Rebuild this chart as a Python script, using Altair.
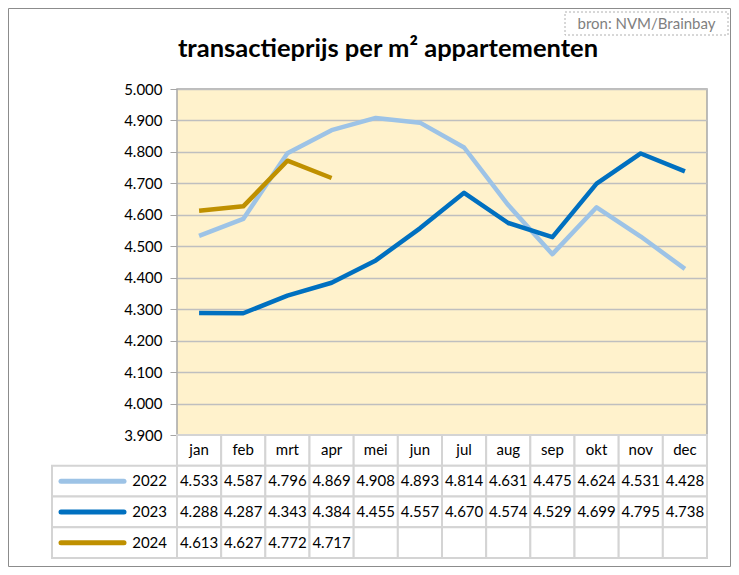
import altair as alt
import pandas as pd

months = ['jan', 'feb', 'mrt', 'apr', 'mei', 'jun', 'jul', 'aug', 'sep', 'okt', 'nov', 'dec']
years = ['2022', '2023', '2024']
v2022 = [4533, 4587, 4796, 4869, 4908, 4893, 4814, 4631, 4475, 4624, 4531, 4428]
v2023 = [4288, 4287, 4343, 4384, 4455, 4557, 4670, 4574, 4529, 4699, 4795, 4738]
v2024 = [4613, 4627, 4772, 4717]
y_ticks = [3900, 4000, 4100, 4200, 4300, 4400, 4500, 4600, 4700, 4800, 4900, 5000]
colors = ['#9dc3e6', '#0070c0', '#bf9000']
title_text = 'transactieprijs per m² appartementen'
source_text = 'bron: NVM/Brainbay'

FONT = 'Lato'
series = {'2022': v2022, '2023': v2023, '2024': v2024}


def fmt(v):
    return f"{v / 1000:.3f}"


line_rows = []
for yr in years:
    for i, v in enumerate(series[yr]):
        line_rows.append({'idx': i, 'month': months[i], 'year': yr, 'value': v})
line_df = pd.DataFrame(line_rows)

cell_rows = []
for row in ['hdr'] + years:
    for i, m in enumerate(months):
        if row == 'hdr':
            txt = m
        else:
            vals = series[row]
            txt = fmt(vals[i]) if i < len(vals) else ''
        cell_rows.append({'idx': i, 'x0': i - 0.5, 'x1': i + 0.5, 'row': row, 'txt': txt})
cell_df = pd.DataFrame(cell_rows)
year_df = pd.DataFrame({'row': years})

x_scale = alt.Scale(domain=[-0.5, 11.5], nice=False, zero=False)
row_scale = alt.Scale(type='band', domain=['hdr'] + years, range=[346, 469],
                      paddingInner=0, paddingOuter=0)
color_scale = alt.Scale(domain=years, range=colors)


def row_y():
    return alt.Y('row:N', scale=row_scale, axis=None, bandPosition=0.5)


one = pd.DataFrame({'t': [title_text]})
src = pd.DataFrame({'t': [source_text]})

outer = alt.Chart(one).mark_rect(fill='white', fillOpacity=0, stroke='#8c8c8c', strokeWidth=1).encode(
    x=alt.value(-168.5), x2=alt.value(553.5), y=alt.value(-80.5), y2=alt.value(477.5))

lines = alt.Chart(line_df).mark_line(strokeWidth=4.5, strokeJoin='round').encode(
    x=alt.X('idx:Q', scale=x_scale, axis=None),
    y=alt.Y('value:Q', scale=alt.Scale(domain=[3900, 5000], nice=False, zero=False),
            axis=alt.Axis(values=y_ticks, title=None, domain=False, tickColor='#a6a6a6',
                          tickSize=7, labelPadding=8, labelFont=FONT, labelFontSize=15,
                          labelColor='#000000', grid=True, gridColor='#bfbfbf', gridWidth=1.3,
                          labelExpr="replace(format(datum.value, ','), ',', '.')")),
    color=alt.Color('year:N', scale=color_scale, legend=None),
    detail='year:N')

cells = alt.Chart(cell_df).mark_rect(fill='white', stroke='#d4d4d4', strokeWidth=2).encode(
    x=alt.X('x0:Q', scale=x_scale, axis=None), x2='x1:Q',
    y=alt.Y('row:N', scale=row_scale, axis=None))

left_cells = alt.Chart(year_df).mark_rect(fill='white', stroke='#d4d4d4', strokeWidth=2).encode(
    x=alt.value(-125), x2=alt.value(0),
    y=alt.Y('row:N', scale=row_scale, axis=None))

legend_lines = alt.Chart(year_df).mark_rule(strokeWidth=5, strokeCap='round').encode(
    x=alt.value(-116), x2=alt.value(-53), y=row_y(),
    color=alt.Color('row:N', scale=color_scale, legend=None))

year_labels = alt.Chart(year_df).mark_text(align='right', baseline='middle', font=FONT,
                                           fontSize=15, color='#000000').encode(
    x=alt.value(-10), y=row_y(), text='row:N')

cell_text = alt.Chart(cell_df).mark_text(align='center', baseline='middle', font=FONT,
                                         fontSize=15, color='#000000').encode(
    x=alt.X('idx:Q', scale=x_scale, axis=None), y=row_y(), text='txt:N')

title = alt.Chart(one).mark_text(align='center', baseline='alphabetic', font=FONT, fontSize=25.5,
                                 fontWeight='bold', color='#000000').encode(
    x=alt.value(211), y=alt.value(-32), text='t:N')

src_box = alt.Chart(src).mark_rect(fill='white', stroke='#b0b0b0', strokeDash=[2, 2], strokeWidth=1).encode(
    x=alt.value(388), x2=alt.value(551), y=alt.value(-77), y2=alt.value(-54))

src_label = alt.Chart(src).mark_text(align='center', baseline='middle', font=FONT, fontSize=15,
                                     color='#7f7f7f').encode(
    x=alt.value(469.5), y=alt.value(-65.5), text='t:N')

chart = alt.layer(
    outer, lines, cells, left_cells, legend_lines, year_labels, cell_text, title, src_box, src_label
).resolve_scale(y='independent').properties(
    width=530, height=346,
    autosize=alt.AutoSizeParams(type='none'),
    padding={'left': 169, 'top': 81, 'right': 24, 'bottom': 132}
).configure_view(fill='#fff2cc', stroke='#a6a6a6', strokeWidth=1.5)

chart.save('out.html', embed_options={'renderer': 'svg', 'actions': False})
